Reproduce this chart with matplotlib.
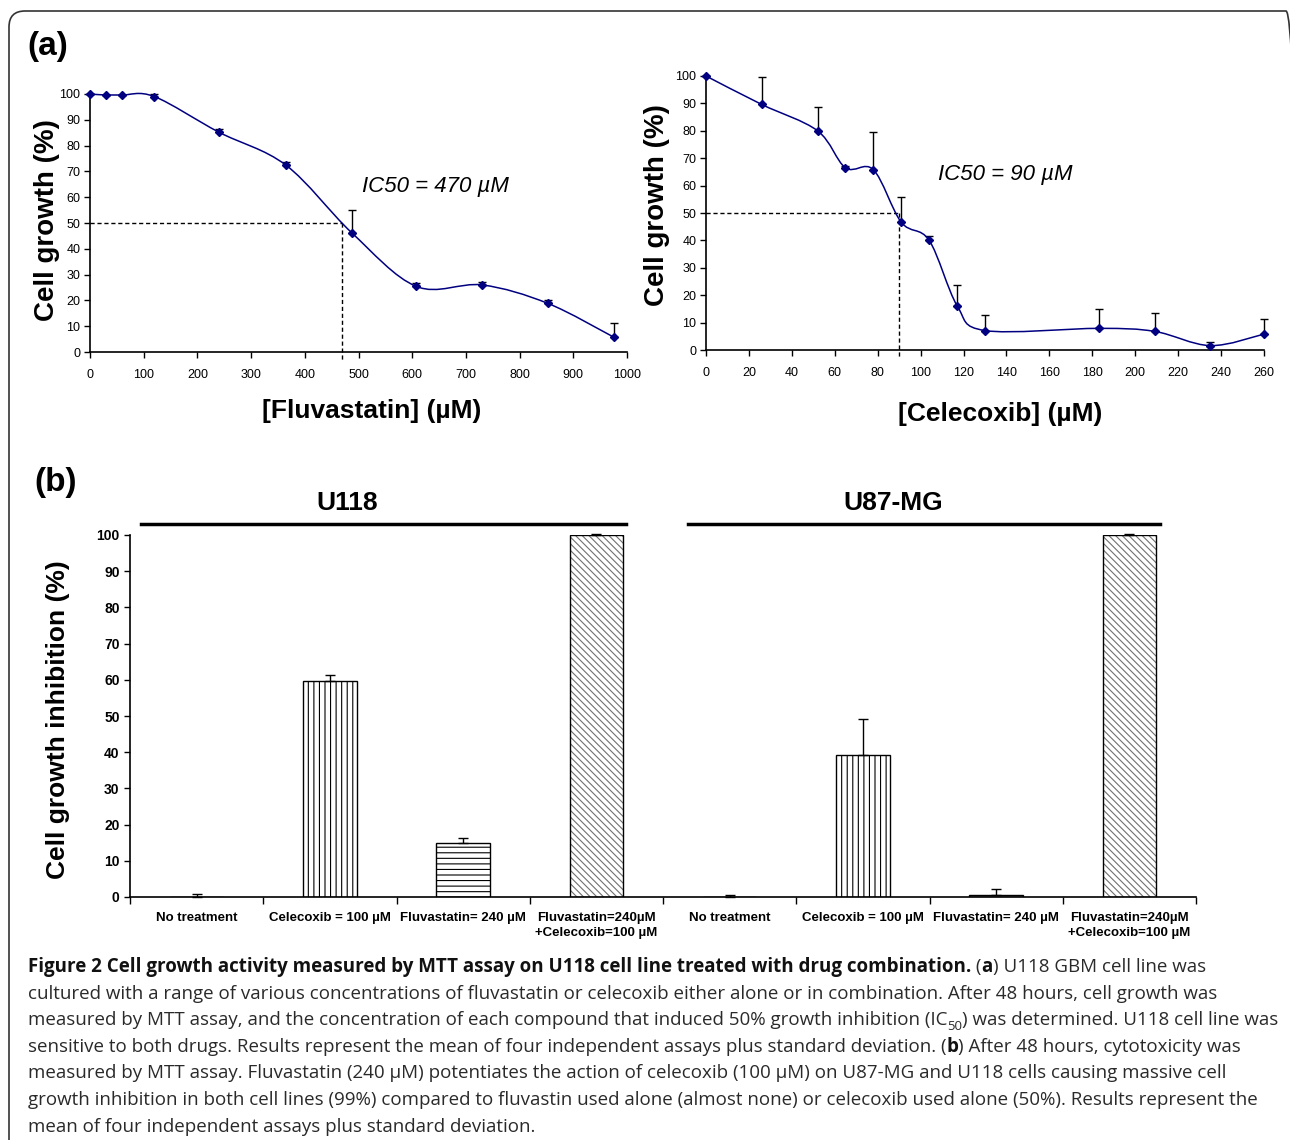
import matplotlib
matplotlib.use("Agg")
import matplotlib.pyplot as plt
import numpy as np
from matplotlib.path import Path
from matplotlib.patches import PathPatch, FancyBboxPatch

# ===== data =====
fluva_conc = [0, 30, 60, 120, 240, 365, 487, 608, 730, 852, 975]
fluva_growth = [100, 99.6, 99.6, 99, 85.2, 72.4, 46.3, 25.4, 26, 18.9, 5.8]
fluva_sd = [0, 0, 0, 0.9, 1.3, 1.4, 8.6, 1.4, 1.3, 1.4, 5.4]
fluva_ic50 = 470

cele_conc = [0, 26, 52, 65, 78, 91, 104, 117, 130, 183, 209, 235, 260]
cele_growth = [100, 89.6, 80, 66.5, 65.8, 46.6, 40, 16.2, 7.1, 7.9, 6.8, 1.6, 5.8]
cele_sd = [0, 10.2, 8.6, 0.8, 13.7, 9.2, 1.5, 7.4, 5.6, 7.1, 6.6, 1.2, 5.5]
cele_ic50 = 90

treatments = ["No treatment", "Celecoxib = 100 µM", "Fluvastatin= 240 µM",
              "Fluvastatin=240µM\n+Celecoxib=100 µM"]
cell_lines = ["U118", "U87-MG"]
u118_inhib = [0, 59.8, 14.8, 100]
u118_sd = [0.7, 1.4, 1.5, 0.3]
u87_inhib = [0, 39.1, 0.6, 100]
u87_sd = [0.6, 10.1, 1.7, 0.3]

caption_lines = [
    [("Figure 2 Cell growth activity measured by MTT assay on U118 cell line treated with drug combination.", "bold"),
     (" (", "normal"), ("a", "bold"), (") U118 GBM cell line was", "normal")],
    [("cultured with a range of various concentrations of fluvastatin or celecoxib either alone or in combination. After 48 hours, cell growth was", "normal")],
    [("measured by MTT assay, and the concentration of each compound that induced 50% growth inhibition (IC", "normal"),
     ("50", "sub"), (") was determined. U118 cell line was", "normal")],
    [("sensitive to both drugs. Results represent the mean of four independent assays plus standard deviation. (", "normal"),
     ("b", "bold"), (") After 48 hours, cytotoxicity was", "normal")],
    [("measured by MTT assay. Fluvastatin (240 µM) potentiates the action of celecoxib (100 µM) on U87-MG and U118 cells causing massive cell", "normal")],
    [("growth inhibition in both cell lines (99%) compared to fluvastin used alone (almost none) or celecoxib used alone (50%). Results represent the", "normal")],
    [("mean of four independent assays plus standard deviation.", "normal")],
]

navy = "#000080"
plt.rcParams['font.family'] = ['Liberation Sans', 'DejaVu Sans']
plt.rcParams['hatch.linewidth'] = 0.8

fig = plt.figure(figsize=(12.9, 11.4), dpi=100)
W, H = 1290, 1140

def fx(px):
    return px / W

def fy(py):
    return 1 - py / H

# outer frame, only the top-left is really visible
frame = FancyBboxPatch((0.09, -1.0), 12.93, 12.29, boxstyle="round,pad=0,rounding_size=0.16",
                       transform=fig.dpi_scale_trans, facecolor="none", edgecolor="#333333", lw=1.2)
fig.add_artist(frame)


def smooth_line(ax, xs, ys, color):
    # excel style smoothed line: catmull-rom segments as cubic beziers
    p = np.column_stack([xs, ys]).astype(float)
    p_ext = np.vstack([p[0], p, p[-1]])
    verts = [p[0]]
    codes = [Path.MOVETO]
    for i in range(1, len(p_ext) - 2):
        p0, p1, p2, p3 = p_ext[i - 1], p_ext[i], p_ext[i + 1], p_ext[i + 2]
        verts += [p1 + (p2 - p0) / 6, p2 - (p3 - p1) / 6, p2]
        codes += [Path.CURVE4] * 3
    ax.add_patch(PathPatch(Path(verts, codes), facecolor="none", edgecolor=color, lw=1.1,
                           transform=ax.transData, zorder=3, clip_on=False))


def dose_plot(ax, xs, ys, sd, ic50, xmax, xstep, xlabel, note, note_xy, xl_pos, yl_pos):
    ax.errorbar(xs, ys, yerr=[np.zeros(len(sd)), sd], fmt="none", ecolor="black",
                elinewidth=1, capsize=3, capthick=1, zorder=2, clip_on=False)
    smooth_line(ax, xs, ys, navy)
    ax.plot(xs, ys, ls="none", marker="D", ms=4, color=navy, zorder=4, clip_on=False)
    ax.plot([0, ic50], [50, 50], ls=(0, (3, 2)), color="black", lw=1)
    ax.plot([ic50, ic50], [50, -3], ls=(0, (3, 2)), color="black", lw=1, clip_on=False)
    ax.set_xlim(0, xmax)
    ax.set_ylim(0, 100)
    ax.set_xticks(np.arange(0, xmax + 1, xstep))
    ax.set_yticks(np.arange(0, 101, 10))
    ax.tick_params(labelsize=9, length=4, width=1, direction="out", pad=3)
    ax.tick_params(axis="x", pad=8)
    for s in ["top", "right"]:
        ax.spines[s].set_visible(False)
    ax.spines["left"].set_linewidth(1.2)
    ax.spines["bottom"].set_linewidth(1.2)
    ax.set_xlabel(xlabel, fontsize=19, fontweight="bold")
    ax.set_ylabel("Cell growth (%)", fontsize=20, fontweight="bold")
    ax.xaxis.set_label_coords(*xl_pos)
    ax.yaxis.set_label_coords(*yl_pos)
    ax.text(note_xy[0], note_xy[1], note, fontsize=16, style="italic", va="center", ha="left")


ax1 = fig.add_axes([fx(90), fy(352), fx(627 - 90), (352 - 94) / H])
dose_plot(ax1, fluva_conc, fluva_growth, fluva_sd, fluva_ic50, 1000, 100,
          "[Fluvastatin] (µM)", "IC50 = 470 µM", (506, 64), (0.525, -0.182), (-0.056, 0.51))

ax2 = fig.add_axes([fx(706), fy(350), fx(1264 - 706), (350 - 76) / H])
dose_plot(ax2, cele_conc, cele_growth, cele_sd, cele_ic50, 260, 20,
          "[Celecoxib] (µM)", "IC50 = 90 µM", (108, 64), (0.527, -0.19), (-0.064, 0.53))

# ===== (b) bars =====
ax3 = fig.add_axes([fx(130), fy(897), fx(1196 - 130), (897 - 535) / H])
vals = u118_inhib + u87_inhib
sds = u118_sd + u87_sd
x = np.arange(len(vals))
hatches = ["", "|||", "---", "\\\\\\\\\\"] * 2
w = 0.4
for i in range(len(vals)):
    if hatches[i].startswith("\\"):
        ax3.bar(x[i], vals[i], width=w, color="white", edgecolor="#707070", hatch=hatches[i], lw=0, zorder=2)
        ax3.bar(x[i], vals[i], width=w, color="none", edgecolor="black", lw=1, zorder=3)
    else:
        ax3.bar(x[i], vals[i], width=w, color="white", edgecolor="black", hatch=hatches[i], lw=1, zorder=2)
ax3.errorbar(x, vals, yerr=[np.zeros(len(sds)), sds], fmt="none", ecolor="black",
             elinewidth=1, capsize=3.5, capthick=1, zorder=4, clip_on=False)
ax3.set_xlim(-0.5, len(vals) - 0.5)
ax3.set_ylim(0, 100)
ax3.set_yticks(np.arange(0, 101, 10))
ax3.set_xticks(x)
ax3.set_xticklabels(treatments * 2, fontsize=9.5, fontweight="bold", linespacing=1.25)
ax3.set_xticks(np.arange(-0.5, len(vals)), minor=True)
ax3.tick_params(axis="x", which="major", length=0, pad=11)
ax3.tick_params(axis="x", which="minor", length=5, width=1, direction="out")
ax3.tick_params(axis="y", length=4, width=1, direction="out", labelsize=10)
for t in ax3.get_yticklabels():
    t.set_fontweight("bold")
for s in ["top", "right"]:
    ax3.spines[s].set_visible(False)
ax3.spines["left"].set_linewidth(1.2)
ax3.spines["bottom"].set_linewidth(1.2)
ax3.set_ylabel("Cell growth inhibition (%)", fontsize=19, fontweight="bold")
ax3.yaxis.set_label_coords(-0.056, 0.49)

# cell line headers over each group
group_spans = [(-0.42, 3.22), (3.69, 7.23)]
header_x = [1.13, 5.23]
for name, (a, b), hx in zip(cell_lines, group_spans, header_x):
    ax3.plot([a, b], [1.031, 1.031], color="black", lw=2.5, transform=ax3.get_xaxis_transform(), clip_on=False)
    ax3.text(hx, 1.088, name, transform=ax3.get_xaxis_transform(), ha="center", va="center",
             fontsize=19, fontweight="bold")

# panel letters
fig.text(fx(27), fy(47), "(a)", fontsize=24, fontweight="bold", va="center", ha="left")
fig.text(fx(34), fy(483), "(b)", fontsize=24, fontweight="bold", va="center", ha="left")

# ===== caption =====
renderer = fig.canvas.get_renderer()
cap_font = ['Open Sans', 'DejaVu Sans']


def draw_segments(segs, x0, y0, size, draw=True):
    xpos = x0
    arts = []
    for txt, kind in segs:
        weight = "bold" if kind == "bold" else "normal"
        fs = size * 0.7 if kind == "sub" else size
        dy = -0.35 * size if kind == "sub" else 0
        col = "#111111" if kind == "bold" else "#2a2a2a"
        t = fig.text(xpos / W, 1 - (y0 - dy) / H, txt, fontsize=fs, fontweight=weight, family=cap_font,
                     color=col, va="baseline", ha="left")
        xpos = t.get_window_extent(renderer).x1
        arts.append(t)
    if not draw:
        for t in arts:
            t.remove()
    return xpos


# size fitted so the longest line runs from x=28 to x=1273
test_end = draw_segments(caption_lines[2], 28, 1000, 12, draw=False)
cap_size = 12 * (1273 - 28) / (test_end - 28)
for k, segs in enumerate(caption_lines):
    draw_segments(segs, 28, 972 + k * 26.6, cap_size)

fig.savefig("out.png", dpi=100)
